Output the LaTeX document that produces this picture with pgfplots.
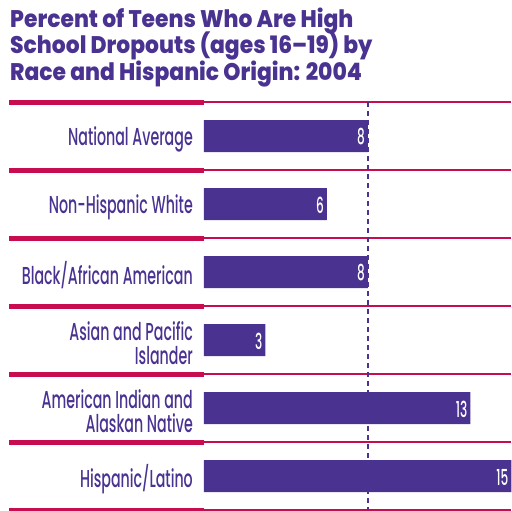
\documentclass[border=0pt]{standalone}
\usepackage{fontspec}
\usepackage{pgfplots}
\pgfplotsset{compat=1.18}
\setmainfont{Poppins}
\newfontfamily\titlefont{Poppins}[FakeStretch=0.91, BoldFont={* ExtraBold}]
\newfontfamily\labelfont{Poppins}[FakeStretch=0.58, UprightFont={* Medium}]
\newfontfamily\valuefont{Poppins}[FakeStretch=0.55, UprightFont={* Medium}]
\definecolor{barpurple}{RGB}{74,50,145}
\definecolor{crim}{RGB}{200,12,80}
\begin{document}
\begin{tikzpicture}
\begin{axis}[
  name=ax,
  at={(0,0)}, anchor=south west,
  scale only axis,
  width=307.5pt, height=408pt,
  xmin=0, xmax=15,
  ymin=-0.5, ymax=5.5,
  y dir=reverse,
  axis line style={draw=none},
  major tick length=0pt,
  xtick=\empty,
  ytick={0,1,2,3,4,5},
  yticklabels={National Average, Non-Hispanic White, Black/African American, {Asian and Pacific\\Islander}, {American Indian and\\Alaskan Native}, Hispanic/Latino},
  yticklabel style={align=right, inner sep=0pt, xshift=-11pt, yshift=-3pt, text=barpurple, font=\labelfont\fontsize{24.5}{24.5}\selectfont},
  clip=false,
  /pgf/number format/assume math mode=true,
]
\pgfplotsinvokeforeach{-0.5,0.5,1.5,2.5,3.5,4.5,5.5}{
  \draw[crim, line width=2.2pt] (axis cs:0,#1) -- (axis cs:15,#1);
  \draw[crim, line width=5pt] ([xshift=-195pt]axis cs:0,#1) -- (axis cs:0,#1);
}
\addplot[xbar, bar width=32pt, fill=barpurple, draw=none,
  nodes near coords, point meta=x,
  every node near coord/.append style={anchor=east, text=white, xshift=-3pt, yshift=-1pt, inner sep=0pt, font=\valuefont\fontsize{22}{22}\selectfont}]
  coordinates {(8,0) (6,1) (8,2) (3,3) (13,4) (15,5)};
\addplot[barpurple, line width=1.2pt, dash pattern=on 5pt off 4pt] coordinates {(8,-0.5) (8,5.5)};
\end{axis}
\node[anchor=base west, inner sep=0pt, text=barpurple, font=\titlefont\bfseries\fontsize{24}{26}\selectfont] at (-194pt,482pt) {Percent of Teens Who Are High};
\node[anchor=base west, inner sep=0pt, text=barpurple, font=\titlefont\bfseries\fontsize{24}{26}\selectfont] at (-194pt,456pt) {School Dropouts (ages 16–19) by};
\node[anchor=base west, inner sep=0pt, text=barpurple, font=\titlefont\bfseries\fontsize{24}{26}\selectfont] at (-194pt,429pt) {Race and Hispanic Origin: 2004};
\pgfresetboundingbox
\path[use as bounding box] (-204pt,-1pt) rectangle (308pt,510pt);
\end{tikzpicture}
\end{document}
